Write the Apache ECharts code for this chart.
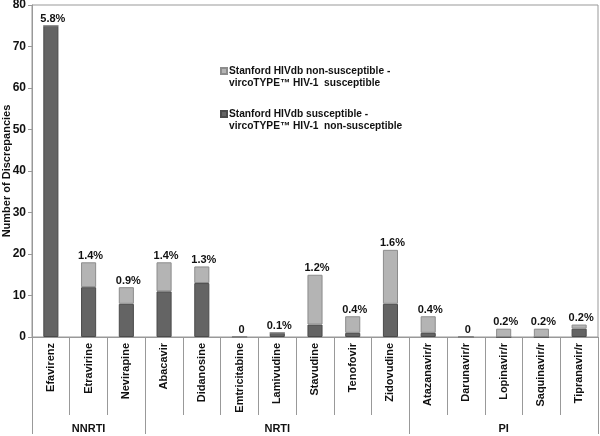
<!DOCTYPE html>
<html><head><meta charset="utf-8">
<script src="https://cdn.jsdelivr.net/npm/echarts@6/dist/echarts.min.js"></script>
<style>html,body{margin:0;padding:0;background:#fff}#c{width:600px;height:436px}</style>
</head><body><div id="c"></div>
<script>
var drugs = ['Efavirenz','Etravirine','Nevirapine','Abacavir','Didanosine','Emtricitabine','Lamivudine','Stavudine','Tenofovir','Zidovudine','Atazanavir/r','Darunavir/r','Lopinavir/r','Saquinavir/r','Tipranavir/r'];
var groupNames = ['NNRTI','NRTI','PI'];
var groupSizes = [3, 7, 5];
var susceptibleStanford = [75, 12, 8, 11, 13, 0, 1, 3, 1, 8, 1, 0, 0, 0, 2];
var nonSusceptibleStanford = [0, 6, 4, 7, 4, 0, 0, 12, 4, 13, 4, 0, 2, 2, 1];
var pctLabels = ['5.8%','1.4%','0.9%','1.4%','1.3%','0','0.1%','1.2%','0.4%','1.6%','0.4%','0','0.2%','0.2%','0.2%'];
var yTicks = [0, 10, 20, 30, 40, 50, 60, 70, 80];

var nameLight = 'Stanford HIVdb non-susceptible -\nvircoTYPE\u2122 HIV-1  susceptible';
var nameDark = 'Stanford HIVdb susceptible -\nvircoTYPE\u2122 HIV-1  non-susceptible';

// group axis: label in middle category of each group, separators at group boundaries
var groupCats = [], groupStarts = {}, pos = 0;
groupNames.forEach(function (g, k) {
  groupStarts[pos] = true;
  for (var i = 0; i < groupSizes[k]; i++) {
    groupCats.push(i === Math.floor(groupSizes[k] / 2) ? g : ' ' + pos + '_' + i);
  }
  pos += groupSizes[k];
});

var FONT = '"Liberation Sans", Arial, sans-serif';
var chart = echarts.init(document.getElementById('c'), null, {renderer: 'canvas'});
chart.setOption({
  animation: false,
  textStyle: {fontFamily: FONT},
  grid: {left: 32, right: 2, top: 5, bottom: 99, show: true, borderColor: '#999', borderWidth: 1, containLabel: false, outerBoundsMode: 'none'},
  legend: {
    orient: 'vertical', left: 215, top: 60, itemWidth: 6, itemHeight: 18, itemGap: 19,
    data: [nameLight, nameDark], icon: 'path://M0,0H6V6H0Z M0,18',
    textStyle: {fontFamily: FONT, fontWeight: 'bold', fontSize: 10.2, color: '#111', lineHeight: 12, padding: [0,0,0,-3]}
  },
  xAxis: [{
    type: 'category', data: drugs, position: 'bottom',
    axisLine: {lineStyle: {color: '#999'}},
    axisTick: {show: true, interval: 0, length: 78, lineStyle: {color: '#999'}},
    axisLabel: {rotate: 90, interval: 0, margin: 6, fontFamily: FONT, fontWeight: 'bold', fontSize: 11, color: '#111'}
  }, {
    type: 'category', data: groupCats, position: 'bottom', offset: 0,
    axisLine: {show: false},
    axisTick: {show: true, length: 97, interval: function (i) { return !!groupStarts[i]; }, lineStyle: {color: '#999'}},
    axisLabel: {interval: 0, margin: 86, fontFamily: FONT, fontWeight: 'bold', fontSize: 11, color: '#111',
      formatter: function (v) { return groupNames.indexOf(v) >= 0 ? v : ''; }}
  }],
  yAxis: {
    type: 'value', min: yTicks[0], max: yTicks[yTicks.length - 1], interval: 10,
    name: 'Number of Discrepancies', nameLocation: 'middle', nameGap: 20, nameMoveOverlap: false,
    nameTextStyle: {fontFamily: FONT, fontWeight: 'bold', fontSize: 11, color: '#111'},
    axisLine: {show: true, lineStyle: {color: '#999'}},
    axisTick: {show: true, length: 4, lineStyle: {color: '#999'}},
    splitLine: {show: false},
    axisLabel: {fontFamily: FONT, fontWeight: 'bold', fontSize: 12, color: '#111', margin: 6}
  },
  series: [{
    name: nameDark, type: 'bar', stack: 'a', xAxisIndex: 0, data: susceptibleStanford, barWidth: '40%',
    itemStyle: {color: '#646464', borderColor: '#4a4a4a', borderWidth: 1}
  }, {
    name: nameLight, type: 'bar', stack: 'a', xAxisIndex: 0, data: nonSusceptibleStanford, barWidth: '40%',
    itemStyle: {color: '#b4b4b4', borderColor: '#8c8c8c', borderWidth: 1},
    label: {show: true, position: 'top', distance: 1, offset: [2, 0], fontFamily: FONT, fontWeight: 'bold', fontSize: 11, color: '#111',
      formatter: function (p) { return pctLabels[p.dataIndex]; }}
  }]
});
</script></body></html>
